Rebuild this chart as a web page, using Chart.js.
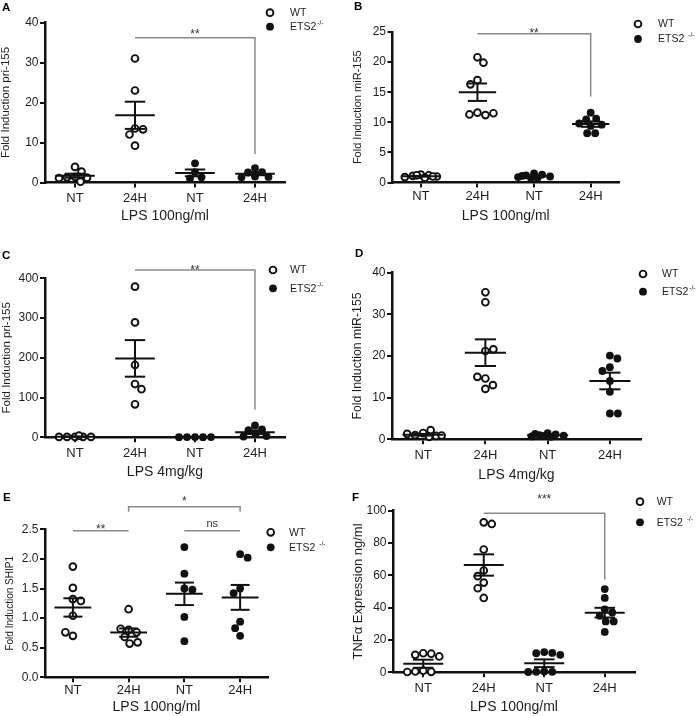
<!DOCTYPE html>
<html><head><meta charset="utf-8">
<script src="https://cdn.jsdelivr.net/npm/chart.js@4.4.1/dist/chart.umd.min.js"></script>
<style>
html,body{margin:0;padding:0;background:#fff;width:700px;height:716px;overflow:hidden;position:relative;}
</style></head><body>
<script>
// ---------- DATA ----------
const catLabels = ['NT', '24H', 'NT', '24H'];
const groupLabels = ['WT', 'ETS2'];
const supLabel = '-/-';

// groups in order: WT NT, WT 24H, ETS2 NT, ETS2 24H
const A_vals = [[3.9, 2.7, 1.4, 1.3, 1.2, 1.1, 0.2], [31.0, 23.0, 13.5, 13.3, 12.0, 9.2], [4.8, 2.6, 1.3, 1.0], [3.6, 2.6, 2.5, 1.5, 1.4, 1.3]];
const A_mean = [1.7, 16.8, 2.4, 2.2];
const A_sem = [0.5, 3.4, 0.85, 0.38];

const B_vals = [[1.3, 1.2, 1.1, 1.0, 0.9, 0.8, 1.2, 1.0], [20.8, 19.9, 17.0, 16.3, 11.6, 11.2, 11.3, 11.5], [1.5, 1.3, 1.2, 1.0, 0.9, 0.8, 0.7, 1.1], [11.6, 10.6, 10.5, 9.8, 9.6, 9.4, 8.2, 8.2]];
const B_mean = [1.05, 15.0, 1.05, 9.7];
const B_sem = [0.06, 1.45, 0.1, 0.45];

const C_vals = [[1, 1, 1, 1, 1, 4], [379, 289, 182, 134, 121, 83], [0.5, 0.4, 0.6, 0.5, 0.3], [30, 20, 18, 8, 3, 2]];
const C_mean = [1.5, 198.5, 0.5, 12.8];
const C_sem = [0.5, 46, 0.1, 4.6];

const D_vals = [[1.5, 2.2, 1.0, 0.8, 1.3, 0.6, 0.9], [35.3, 32.9, 21.2, 21.6, 14.6, 15.0, 12.1, 13.0], [1.5, 1.2, 1.0, 0.9, 0.7, 0.6, 1.3, 0.8], [20.1, 19.4, 17.3, 16.4, 14.0, 11.4, 6.2, 6.2]];
const D_mean = [1.1, 20.8, 1.0, 14.0];
const D_sem = [0.2, 3.2, 0.11, 2.0];

const E_vals = [[1.87, 1.51, 1.32, 1.29, 1.04, 0.70, 0.76], [1.15, 0.80, 0.76, 0.82, 0.68, 0.57, 0.59], [2.2, 1.75, 1.5, 1.48, 1.02, 0.61], [2.08, 2.02, 1.50, 1.42, 0.94, 0.83, 0.70]];
const E_mean = [1.18, 0.755, 1.41, 1.35];
const E_sem = [0.155, 0.07, 0.19, 0.21];

const F_vals = [[11.8, 11.5, 10.8, 9.8, 1.0, 0.5, 0.3, 0.2], [92.8, 91.8, 76.0, 63.0, 59.5, 55.5, 52.0, 46.0], [12.5, 12.0, 11.8, 10.8, 0.5, 0.3, 0.3, 0.2], [51.5, 46.0, 39.0, 37.0, 35.0, 31.5, 31.5, 25.0]];
const F_mean = [5.3, 66.4, 5.6, 36.9];
const F_sem = [2.5, 6.6, 2.4, 3.0];

// ---------- LAYOUT ----------
const FONT = '"Liberation Sans", Arial, Helvetica, sans-serif';
const TXT = '#1e1e1e';
const INK = '#111';

const panels = [
  {id:'A', vals:A_vals, mean:A_mean, sem:A_sem, x:0, y:0, w:350, h:235,
   area:{l:45, r:285, t:22.5, b:182.5}, yMax:40, yStep:10, yDec:0,
   yTitle:'Fold Induction pri-155', yTitleSize:11.5, yTitlePad:0,
   xTitle:'LPS 100ng/ml', xTitlePB:10.5, xTickPad:3,
   legend:{x:270, y1:12.7, y2:26.7, tx:290, gap:1}, letter:{x:2, y:8},
   brackets:[{x1:2, x2:4, y:36.2, d2:7.1, text:'**', tdy:-7}]},
  {id:'B', vals:B_vals, mean:B_mean, sem:B_sem, x:350, y:0, w:350, h:235,
   area:{l:42.5, r:269, t:32, b:182.5}, yMax:25, yStep:5, yDec:0,
   yTitle:'Fold Induction miR-155', yTitleSize:11, yTitlePad:2.5,
   xTitle:'LPS 100ng/ml', xTitlePB:11, xTickPad:1.5,
   legend:{x:288, y1:24, y2:39, tx:308, gap:4}, letter:{x:4, y:7},
   brackets:[{x1:2, x2:4, y:24.7, d2:14.3, text:'**', tdy:-4}]},
  {id:'C', vals:C_vals, mean:C_mean, sem:C_sem, x:0, y:235, w:350, h:250,
   area:{l:45, r:285, t:43.3, b:202.3}, yMax:400, yStep:100, yDec:0,
   yTitle:'Fold Induction pri-155', yTitleSize:11.5, yTitlePad:1.2,
   xTitle:'LPS 4mg/kg', xTitlePB:5.2, xTickPad:3.2,
   legend:{x:273, y1:35, y2:53.3, tx:290, gap:1}, letter:{x:2, y:21},
   brackets:[{x1:2, x2:4, y:421, d2:69, text:'**', tdy:-3}]},
  {id:'D', vals:D_vals, mean:D_mean, sem:D_sem, x:350, y:235, w:350, h:250,
   area:{l:42, r:291, t:37.7, b:204.3}, yMax:40, yStep:10, yDec:0,
   yTitle:'Fold Induction miR-155', yTitleSize:12.3, yTitlePad:1.3,
   xTitle:'LPS 4mg/kg', xTitlePB:2.2, xTickPad:3.9,
   legend:{x:293, y1:39, y2:56.7, tx:312, gap:1}, letter:{x:5, y:19},
   brackets:[]},
  {id:'E', vals:E_vals, mean:E_mean, sem:E_sem, x:0, y:480, w:350, h:236,
   area:{l:45, r:268, t:49.3, b:197.3}, yMax:2.5, yStep:0.5, yDec:1,
   yTitle:'Fold Induction SHIP1', yTitleSize:10, yTitlePad:5.5,
   xTitle:'LPS 100ng/ml', xTitlePB:1.2, xTickPad:0.9,
   legend:{x:270.7, y1:52.3, y2:67.3, tx:289, gap:4}, letter:{x:3, y:18},
   brackets:[{x1:1, x2:2, y:2.476, text:'**', tdy:-5},
             {x1:2, x2:4, y:2.88, d1:2.797, d2:2.797, text:'*', tdy:-9},
             {x1:3, x2:4, y:2.476, text:'ns', tdy:-6.4}]},
  {id:'F', vals:F_vals, mean:F_mean, sem:F_sem, x:350, y:480, w:350, h:236,
   area:{l:43, r:285, t:30.7, b:192.3}, yMax:100, yStep:20, yDec:0,
   yTitle:'TNF\u03B1 Expression ng/ml', yTitleSize:13, yTitlePad:1.5,
   xTitle:'LPS 100ng/ml', xTitlePB:1.2, xTickPad:3.5,
   legend:{x:290, y1:21.7, y2:42.3, tx:306.7, gap:4}, letter:{x:2, y:18},
   brackets:[{x1:2, x2:4, y:98.4, d2:57.5, text:'***', tdy:-17}]}
];

// bounded beeswarm: spreads overlapping points sideways (pixel offsets),
// never wider than maxOff; if no free slot, picks the least-overlapping one
function swarm(vals, pxPerUnit, minD, maxOff) {
  const placed = [], offs = [];
  vals.forEach(v => {
    const y = v * pxPerUnit;
    const sum = placed.reduce((s, p) => s + p.x, 0);
    const sign = sum > 0 ? -1 : 1;
    const cands = [0];
    for (let k = 1; k * 0.5 <= maxOff; k++) cands.push(sign * k * 0.5, -sign * k * 0.5);
    let best = null, bestScore = -1, bestC = 0;
    for (const c of cands) {
      const d = placed.length ? Math.min(...placed.map(p => Math.hypot(p.x - c, p.y - y))) : Infinity;
      if (d >= minD) { best = c; break; }
      if (d > bestScore + 0.05) { bestScore = d; bestC = c; }
    }
    if (best === null) best = bestC;
    placed.push({x: best, y}); offs.push(best);
  });
  return offs;
}

function marker(ctx, x, y, filled) {
  ctx.beginPath();
  if (filled) {
    ctx.arc(x, y, 3.9, 0, Math.PI * 2);
    ctx.fillStyle = INK; ctx.fill();
  } else {
    ctx.arc(x, y, 3.4, 0, Math.PI * 2);
    ctx.fillStyle = '#fff'; ctx.fill();
    ctx.lineWidth = 1.9; ctx.strokeStyle = INK; ctx.stroke();
  }
}

function makePanel(p) {
  const cv = document.createElement('canvas');
  cv.width = p.w; cv.height = p.h;
  cv.style.cssText = `position:absolute;left:${p.x}px;top:${p.y}px;width:${p.w}px;height:${p.h}px;`;
  document.body.appendChild(cv);
  const a = p.area;
  const catW = (a.r - a.l) / 4;
  const pxPerUnit = (a.b - a.t) / p.yMax;
  const wt = [], ko = [];
  p.vals.forEach((arr, g) => {
    const offs = swarm(arr, pxPerUnit, 8, catW * 0.3);
    arr.forEach((v, i) => { (g < 2 ? wt : ko).push({x: g + 1 + offs[i] / catW, y: v}); });
  });

  const overlay = {
    id: 'overlay' + p.id,
    afterDatasetsDraw(chart) {
      const ctx = chart.ctx, xs = chart.scales.x, ys = chart.scales.y;
      ctx.save();
      ctx.strokeStyle = INK; ctx.lineWidth = 2; ctx.lineCap = 'butt';
      const seg = (x1, y1, x2, y2) => { ctx.beginPath(); ctx.moveTo(x1, y1); ctx.lineTo(x2, y2); ctx.stroke(); };
      p.mean.forEach((m, i) => {
        const c = i + 1, s = p.sem[i];
        const ym = ys.getPixelForValue(m), yt = ys.getPixelForValue(m + s), yb = ys.getPixelForValue(m - s);
        const xc = xs.getPixelForValue(c);
        seg(xs.getPixelForValue(c - 0.33), ym, xs.getPixelForValue(c + 0.33), ym);
        seg(xs.getPixelForValue(c - 0.17), yt, xs.getPixelForValue(c + 0.17), yt);
        seg(xs.getPixelForValue(c - 0.17), yb, xs.getPixelForValue(c + 0.17), yb);
        seg(xc, yt, xc, yb);
      });
      ctx.restore();
    },
    afterDraw(chart) {
      const ctx = chart.ctx, xs = chart.scales.x, ys = chart.scales.y;
      ctx.save();
      // significance brackets
      p.brackets.forEach(b => {
        const x1 = xs.getPixelForValue(b.x1), x2 = xs.getPixelForValue(b.x2), y = ys.getPixelForValue(b.y);
        ctx.strokeStyle = '#8a8a8a'; ctx.lineWidth = 1.5;
        ctx.beginPath();
        if (b.d1 != null) { ctx.moveTo(x1, ys.getPixelForValue(b.d1)); ctx.lineTo(x1, y); } else ctx.moveTo(x1, y);
        ctx.lineTo(x2, y);
        if (b.d2 != null) ctx.lineTo(x2, ys.getPixelForValue(b.d2));
        ctx.stroke();
        const isAst = /^\*+$/.test(b.text);
        const fs = isAst ? 12 : 11;
        ctx.font = `${fs}px ${FONT}`; ctx.fillStyle = '#333';
        ctx.textAlign = 'center'; ctx.textBaseline = 'alphabetic';
        ctx.fillText(b.text, (x1 + x2) / 2, y + b.tdy + (isAst ? 0.58 : 0.27) * fs);
      });
      // legend
      const L = p.legend;
      marker(ctx, L.x, L.y1, false);
      marker(ctx, L.x, L.y2, true);
      ctx.fillStyle = TXT; ctx.textAlign = 'left'; ctx.textBaseline = 'middle';
      ctx.font = `10.5px ${FONT}`;
      ctx.fillText(groupLabels[0], L.tx, L.y1 + 0.5);
      ctx.fillText(groupLabels[1], L.tx, L.y2 + 0.5);
      const w = ctx.measureText(groupLabels[1]).width;
      ctx.font = `6.5px ${FONT}`;
      ctx.fillText(supLabel, L.tx + w + L.gap, L.y2 - 3.5);
      // panel letter
      ctx.font = `bold 11.5px ${FONT}`; ctx.fillStyle = '#000';
      ctx.textBaseline = 'middle';
      ctx.fillText(p.id, p.letter.x, p.letter.y);
      ctx.restore();
    }
  };

  new Chart(cv, {
    type: 'scatter',
    data: {datasets: [
      {label: groupLabels[0], data: wt, pointRadius: 3.4, pointBorderWidth: 1.9,
       pointBackgroundColor: '#fff', pointBorderColor: INK, clip: false},
      {label: groupLabels[1], data: ko, pointRadius: 3.9, pointBorderWidth: 0,
       pointBackgroundColor: INK, pointBorderColor: INK, clip: false}
    ]},
    options: {
      responsive: false, animation: false, events: [],
      layout: {padding: {left: 0, top: a.t, right: p.w - a.r, bottom: 0}},
      plugins: {legend: {display: false}, tooltip: {enabled: false}},
      scales: {
        x: {
          type: 'linear', min: 0.5, max: 4.5,
          afterBuildTicks: s => { s.ticks = catLabels.map((c, i) => ({value: i + 1})); },
          afterFit: s => { s.height = p.h - a.b; },
          ticks: {callback: v => catLabels[Math.round(v) - 1], font: {family: FONT, size: 13}, color: TXT,
                  padding: p.xTickPad - 0.3, autoSkip: false, maxRotation: 0},
          grid: {display: true, drawOnChartArea: false, drawTicks: true, tickLength: 5, color: INK, lineWidth: 2},
          border: {display: true, color: INK, width: 2.5},
          title: {display: true, text: p.xTitle, color: TXT, font: {family: FONT, size: 14, lineHeight: 1.2},
                  padding: {top: 0, bottom: p.xTitlePB - 0.3}}
        },
        y: {
          min: 0, max: p.yMax,
          afterFit: s => { s.width = a.l; },
          ticks: {stepSize: p.yStep, callback: v => Number(v).toFixed(p.yDec), font: {family: FONT, size: 12},
                  color: TXT, padding: 1.5},
          grid: {display: true, drawOnChartArea: false, drawTicks: true, tickLength: 5, color: INK, lineWidth: 2},
          border: {display: true, color: INK, width: 2.5},
          title: {display: true, text: p.yTitle, color: TXT, font: {family: FONT, size: p.yTitleSize, lineHeight: 1},
                  padding: {top: p.yTitlePad, bottom: 0}}
        }
      }
    },
    plugins: [overlay]
  });
}

panels.forEach(makePanel);
</script>
</body></html>
